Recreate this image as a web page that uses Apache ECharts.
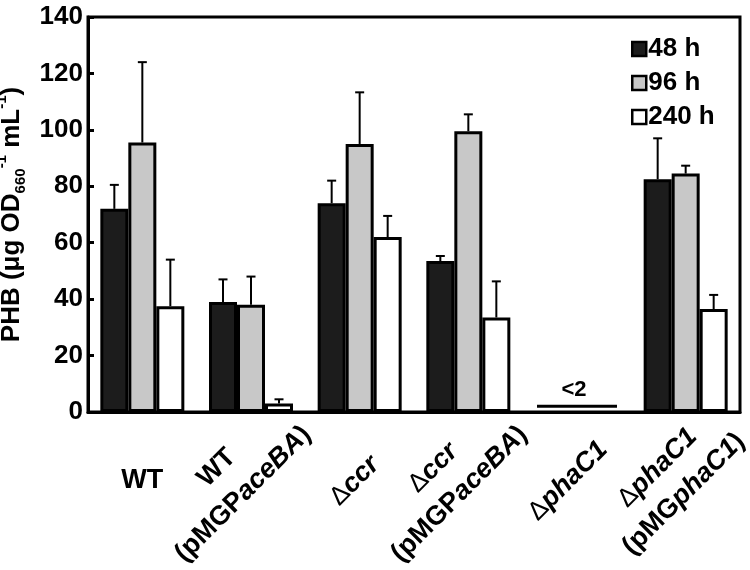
<!DOCTYPE html>
<html><head><meta charset="utf-8">
<script src="https://cdn.jsdelivr.net/npm/echarts@6/dist/echarts.min.js"></script>
<style>html,body{margin:0;padding:0;background:#fff}#c{width:750px;height:570px}</style>
</head><body><div id="c"></div>
<script>
// ---- data ----
const categories = ['WT', 'WT (pMGPaceBA)', 'Δccr', 'Δccr (pMGPaceBA)', 'ΔphaC1', 'ΔphaC1 (pMGphaC1)'];
const seriesNames = ['48 h', '96 h', '240 h'];
const values48  = [72,   39,   74,   53.5, null, 82.5];
const values96  = [95.5, 38,   95,   99.5, null, 84.5];
const values240 = [37.5, 3,    62,   33.5, null, 36.5];
const err48  = [8.5,  8,   8,    1.8,  null, 14.5];
const err96  = [28.5, 10,  18.3, 6,    null, 2.8];
const err240 = [16.5, 1.5, 7.5,  12.8, null, 5];
const limitCategory = 'ΔphaC1';
const limitValue = 2;
const limitText = '<2';
const yMin = 0, yMax = 140, yInterval = 20;
// category label text: lines of [text, style] parts
const categoryLabelParts = [
  [[['WT', 'b']]],
  [[['WT', 'b']], [['(pMGP', 'b'], ['aceBA', 'bi'], [')', 'b']]],
  [[['Δ', 'd'], ['ccr', 'bi']]],
  [[['Δ', 'd'], ['ccr', 'bi']], [['(pMGP', 'b'], ['aceBA', 'bi'], [')', 'b']]],
  [[['Δ', 'd'], ['phaC1', 'bi']]],
  [[['Δ', 'd'], ['phaC1', 'bi']], [['(pMG', 'b'], ['phaC1', 'bi'], [')', 'b']]]
];

// ---- styles ----
const FONT = "'Liberation Sans', Arial, sans-serif";
const colors = ['#1c1c1c', '#c8c8c8', '#ffffff'];
const BAR_W = 28;
const GRID = {left: 88, right: 10, top: 17, bottom: 158};
const tiltDeg = 45;
const labelDx = [0, -21, -5, -22, -9, -15];
const labelY = 481;
const LINE_H = 37;
const tiltMargin = -50;
const partStyles = {
  b:  {fontSize: 27, fontWeight: 'bold', fontStyle: 'normal'},
  bi: {fontSize: 27, fontWeight: 'bold', fontStyle: 'italic'},
  d:  {fontSize: 26, fontWeight: 'normal', fontStyle: 'normal'}
};
const rich = {};
Object.keys(partStyles).forEach(k => {
  rich[k] = Object.assign({fontFamily: FONT, color: '#000', lineHeight: LINE_H, align: 'center'}, partStyles[k]);
});
const labelMarkup = categoryLabelParts.map(lines =>
  lines.map(parts => parts.map(p => '{' + p[1] + '|' + p[0] + '}').join('')).join('\n'));

// measure label block widths to place the tilted labels
const ctx = document.createElement('canvas').getContext('2d');
function widthOf(t, st) { ctx.font = st.fontStyle + ' ' + st.fontWeight + ' ' + st.fontSize + 'px ' + FONT; return ctx.measureText(t).width; }
const blockW = categoryLabelParts.map(lines => Math.max(...lines.map(parts =>
  parts.reduce((a, p) => a + widthOf(p[0], partStyles[p[1]]), 0))));

const axisY = 570 - GRID.bottom;
const th = tiltDeg * Math.PI / 180;
const tiltData = categories.map((c, i) => {
  const dx = labelDx[i], dy = labelY - (axisY + tiltMargin);
  const cxl = Math.cos(th) * dx - Math.sin(th) * dy;   // along text direction
  const cyl = Math.sin(th) * dx + Math.cos(th) * dy;   // perpendicular (local down)
  const pr = -cxl - blockW[i] / 2;
  const pt = cyl >= 0 ? 2 * cyl : 0, pb = cyl < 0 ? -2 * cyl : 0;
  return {value: c, textStyle: {padding: [pt, pr, pb, 0]}};
});

const chart = echarts.init(document.getElementById('c'));

const valueSets = [values48, values96, values240];
const errSets = [err48, err96, err240];

const barSeries = seriesNames.map((name, s) => ({
  name, type: 'bar', xAxisIndex: 0,
  data: valueSets[s].map(v => v == null ? '-' : v),
  barWidth: BAR_W, barGap: '0%',
  itemStyle: {color: colors[s], borderColor: '#000', borderWidth: 3},
  z: 3
}));

const errSeries = seriesNames.map((name, s) => ({
  type: 'custom', name: name + ' err', xAxisIndex: 0,
  data: categories.map((c, i) => valueSets[s][i] == null ? null : [i, valueSets[s][i], errSets[s][i]]).filter(d => d),
  renderItem(params, api) {
    const ci = api.value(0), v = api.value(1), e = api.value(2);
    const base = api.coord([ci, v]);
    const top = api.coord([ci, v + e]);
    const x = base[0] + (s - 1) * BAR_W;
    return {type: 'group', children: [
      {type: 'line', shape: {x1: x, y1: base[1], x2: x, y2: top[1]}, style: {stroke: '#000', lineWidth: 2}},
      {type: 'line', shape: {x1: x - 4.5, y1: top[1], x2: x + 4.5, y2: top[1]}, style: {stroke: '#000', lineWidth: 2}}
    ]};
  },
  z: 2, silent: true
}));

const limitSeries = {
  type: 'custom', name: 'limit', xAxisIndex: 0,
  data: [[categories.indexOf(limitCategory), limitValue]],
  renderItem(params, api) {
    const p = api.coord([api.value(0), api.value(1)]);
    const hw = (3 * BAR_W - 4) / 2;
    return {type: 'group', children: [
      {type: 'line', shape: {x1: p[0] - hw, y1: p[1], x2: p[0] + hw, y2: p[1]}, style: {stroke: '#000', lineWidth: 3}},
      {type: 'text', x: p[0] - 3, y: p[1] - 5, style: {text: limitText, fontSize: 22, fontWeight: 'bold', fontFamily: FONT, fill: '#000', align: 'center', verticalAlign: 'bottom'}}
    ]};
  },
  z: 4, silent: true
};

const subStyle = {fontSize: 15, fontWeight: 'bold', fontFamily: FONT, color: '#000', verticalAlign: 'bottom', lineHeight: 34};
const supStyle = {fontSize: 15, fontWeight: 'bold', fontFamily: FONT, color: '#000', verticalAlign: 'top', lineHeight: 34};
const baseStyle = {fontSize: 26, fontWeight: 'bold', fontFamily: FONT, color: '#000', lineHeight: 34};

chart.setOption({
  animation: false,
  backgroundColor: '#fff',
  grid: Object.assign({show: true, borderColor: '#000', borderWidth: 3,
    backgroundColor: 'transparent', containLabel: false, outerBoundsMode: 'none'}, GRID),
  legend: {
    data: seriesNames, orient: 'vertical', left: 626, top: 31,
    itemWidth: 14, itemHeight: 14, itemGap: 8, icon: 'rect',
    itemStyle: {borderColor: '#000', borderWidth: 2.5},
    textStyle: {fontSize: 26, fontWeight: 'bold', fontFamily: FONT, color: '#000', padding: [0, 0, 0, -3]}
  },
  xAxis: [{
    type: 'category', data: categories, position: 'bottom',
    axisLine: {show: true, lineStyle: {color: '#000', width: 3}},
    axisTick: {show: false}, splitLine: {show: false},
    axisLabel: {show: true, interval: 0, rotate: 0, margin: labelY - axisY - LINE_H / 2, rich,
      hideOverlap: false,
      formatter: (v, i) => tiltDegOf(i) === 0 ? labelMarkup[i] : ''}
  }, {
    type: 'category', data: tiltData, position: 'bottom', gridIndex: 0,
    axisLine: {show: false}, axisTick: {show: false}, splitLine: {show: false},
    axisLabel: {show: true, interval: 0, rotate: tiltDeg, margin: tiltMargin, rich,
      hideOverlap: false,
      formatter: (v, i) => tiltDegOf(i) !== 0 ? labelMarkup[i] : ''}
  }],
  yAxis: {
    type: 'value', min: yMin, max: yMax, interval: yInterval,
    axisLine: {show: true, lineStyle: {color: '#000', width: 3}},
    axisTick: {show: true, inside: true, length: 6, lineStyle: {color: '#000', width: 3}},
    axisLabel: {fontSize: 26, fontWeight: 'bold', fontFamily: FONT, color: '#000', margin: 5},
    splitLine: {show: false},
    name: '{b|PHB (μg OD}{sub|660}{sup|-1}{b| mL}{sup|-1}{b|)}',
    nameLocation: 'middle', nameRotate: 90, nameGap: 46,
    nameTextStyle: {fontSize: 26, fontWeight: 'bold', fontFamily: FONT, color: '#000',
      rich: {b: baseStyle, sub: subStyle, sup: supStyle}}
  },
  series: [...barSeries, ...errSeries, limitSeries]
});
function tiltDegOf(i) { return i === 0 ? 0 : tiltDeg; }
</script>
</body></html>
